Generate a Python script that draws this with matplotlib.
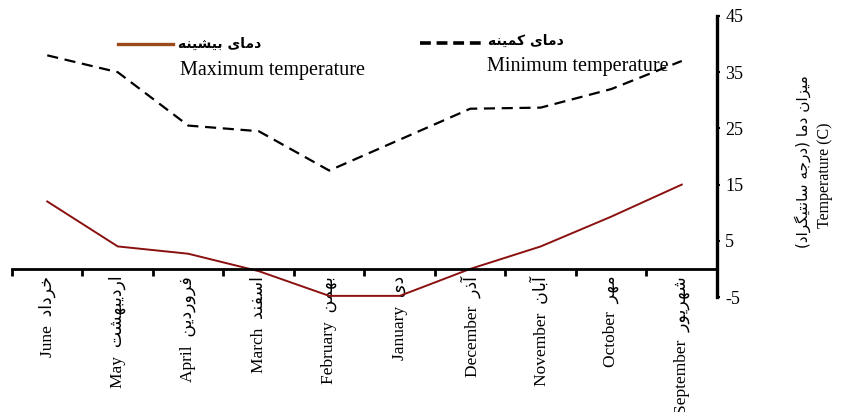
import matplotlib
matplotlib.use("Agg")
import matplotlib.pyplot as plt
from matplotlib.lines import Line2D
import numpy as np

# ---------------- data ----------------
months_en = ["June", "May", "April", "March", "February", "January",
             "December", "November", "October", "September"]
months_fa = ["خرداد", "اردیبهشت", "فروردین", "اسفند", "بهمن", "دی",
             "آذر", "آبان", "مهر", "شهریور"]
max_temp = [12, 4, 2.7, -0.4, -4.8, -4.8, 0, 4, 9.3, 15]
min_temp = [38, 35, 25.5, 24.5, 17.5, 23, 28.5, 28.7, 32, 37]
yticks = [-5, 5, 15, 25, 35, 45]

leg_fa = ["دمای بیشینه", "دمای کمینه"]
leg_en = ["Maximum temperature", "Minimum temperature"]
ylabel_fa = "میزان دما (درجه سانتیگراد)"
ylabel_en = "Temperature (C)"

# -------- minimal Persian shaping (presentation forms + visual order) --------
FORMS = {
    '\u0627': ('\uFE8D', '\uFE8E', None, None),
    '\u0622': ('\uFE81', '\uFE82', None, None),
    '\u0628': ('\uFE8F', '\uFE90', '\uFE91', '\uFE92'),
    '\u062A': ('\uFE95', '\uFE96', '\uFE97', '\uFE98'),
    '\u062C': ('\uFE9D', '\uFE9E', '\uFE9F', '\uFEA0'),
    '\u062E': ('\uFEA5', '\uFEA6', '\uFEA7', '\uFEA8'),
    '\u062F': ('\uFEA9', '\uFEAA', None, None),
    '\u0630': ('\uFEAB', '\uFEAC', None, None),
    '\u0631': ('\uFEAD', '\uFEAE', None, None),
    '\u0632': ('\uFEAF', '\uFEB0', None, None),
    '\u0633': ('\uFEB1', '\uFEB2', '\uFEB3', '\uFEB4'),
    '\u0634': ('\uFEB5', '\uFEB6', '\uFEB7', '\uFEB8'),
    '\u0641': ('\uFED1', '\uFED2', '\uFED3', '\uFED4'),
    '\u0645': ('\uFEE1', '\uFEE2', '\uFEE3', '\uFEE4'),
    '\u0646': ('\uFEE5', '\uFEE6', '\uFEE7', '\uFEE8'),
    '\u0647': ('\uFEE9', '\uFEEA', '\uFEEB', '\uFEEC'),
    '\u0648': ('\uFEED', '\uFEEE', None, None),
    '\u06CC': ('\uFBFC', '\uFBFD', '\uFBFE', '\uFBFF'),
    '\u06A9': ('\uFB8E', '\uFB8F', '\uFB90', '\uFB91'),
    '\u06AF': ('\uFB92', '\uFB93', '\uFB94', '\uFB95'),
}


def fa(text):
    chars = list(text)
    out = []
    for i, c in enumerate(chars):
        if c not in FORMS:
            out.append(c)
            continue
        iso, fin, ini, med = FORMS[c]
        prev = chars[i - 1] if i > 0 else None
        nxt = chars[i + 1] if i + 1 < len(chars) else None
        pj = prev in FORMS and FORMS[prev][2] is not None
        nj = nxt in FORMS and ini is not None
        if pj and nj:
            out.append(med)
        elif pj:
            out.append(fin)
        elif nj:
            out.append(ini)
        else:
            out.append(iso)
    s = "".join(out)[::-1]
    return s.translate(str.maketrans("()", ")("))


SERIF = ["Liberation Serif", "DejaVu Sans"]
ARAB = ["DejaVu Sans"]

W, H = 843, 412
fig = plt.figure(figsize=(W / 100, H / 100), dpi=100)
ax = fig.add_axes([12 / W, (H - 297) / H, (717 - 12) / W, (297 - 16) / H])

x = np.arange(len(months_en))
ax.plot(x, max_temp, color="#8B1010", lw=1.4, solid_joinstyle="round")
ax.plot(x, min_temp, color="black", lw=1.6, dashes=(5, 3))

ax.set_xlim(-0.5, len(months_en) - 0.5)
ax.set_ylim(-5, 45)

for s in ["left", "top"]:
    ax.spines[s].set_visible(False)
ax.spines["bottom"].set_position(("data", 0))
ax.spines["bottom"].set_linewidth(2.0)
ax.spines["right"].set_linewidth(2.4)

# x ticks at boundaries, labels at centers
ax.set_xticks(np.arange(-0.5, len(months_en)), minor=False)
ax.set_xticklabels([])
ax.set_xticks(x, minor=True)
ax.set_xticklabels([f"{e}  {fa(p)}" for e, p in zip(months_en, months_fa)],
                   minor=True, rotation=90, va="top", ha="center",
                   fontsize=12.5, family=SERIF)
ax.tick_params(axis="x", which="major", direction="out", length=5, width=2)
ax.tick_params(axis="x", which="minor", length=0, pad=5)

ax.yaxis.tick_right()
ax.set_yticks(yticks)
ax.set_yticklabels([str(v) for v in yticks], fontsize=13, family=SERIF)
ax.tick_params(axis="y", direction="out", length=2, width=1.5, pad=4)

# y labels
fig.text(803 / W, 1 - 162 / H, fa(ylabel_fa), rotation=90, ha="center",
         va="center", fontsize=11, family=ARAB)
fig.text(825 / W, 1 - 175 / H, ylabel_en, rotation=90, ha="center",
         va="center", fontsize=11.5, family=SERIF)

# legend (manual)
fig.add_artist(Line2D([118 / W, 173 / W], [1 - 44 / H, 1 - 44 / H],
                      color="#9B4A1C", lw=2.4, transform=fig.transFigure))
fig.text(178 / W, 1 - 44 / H, fa(leg_fa[0]), ha="left", va="center",
         fontsize=10, family=ARAB, fontweight="bold")
fig.text(180 / W, 1 - 70 / H, leg_en[0], ha="left", va="center",
         fontsize=14.5, family=SERIF)

fig.add_artist(Line2D([420 / W, 485 / W], [1 - 43 / H, 1 - 43 / H],
                      color="black", lw=2.6, dashes=(3, 1.6),
                      transform=fig.transFigure))
fig.text(488 / W, 1 - 41 / H, fa(leg_fa[1]), ha="left", va="center",
         fontsize=10, family=ARAB, fontweight="bold")
fig.text(487 / W, 1 - 66 / H, leg_en[1], ha="left", va="center",
         fontsize=14.5, family=SERIF)

fig.savefig("out.png", dpi=100)
